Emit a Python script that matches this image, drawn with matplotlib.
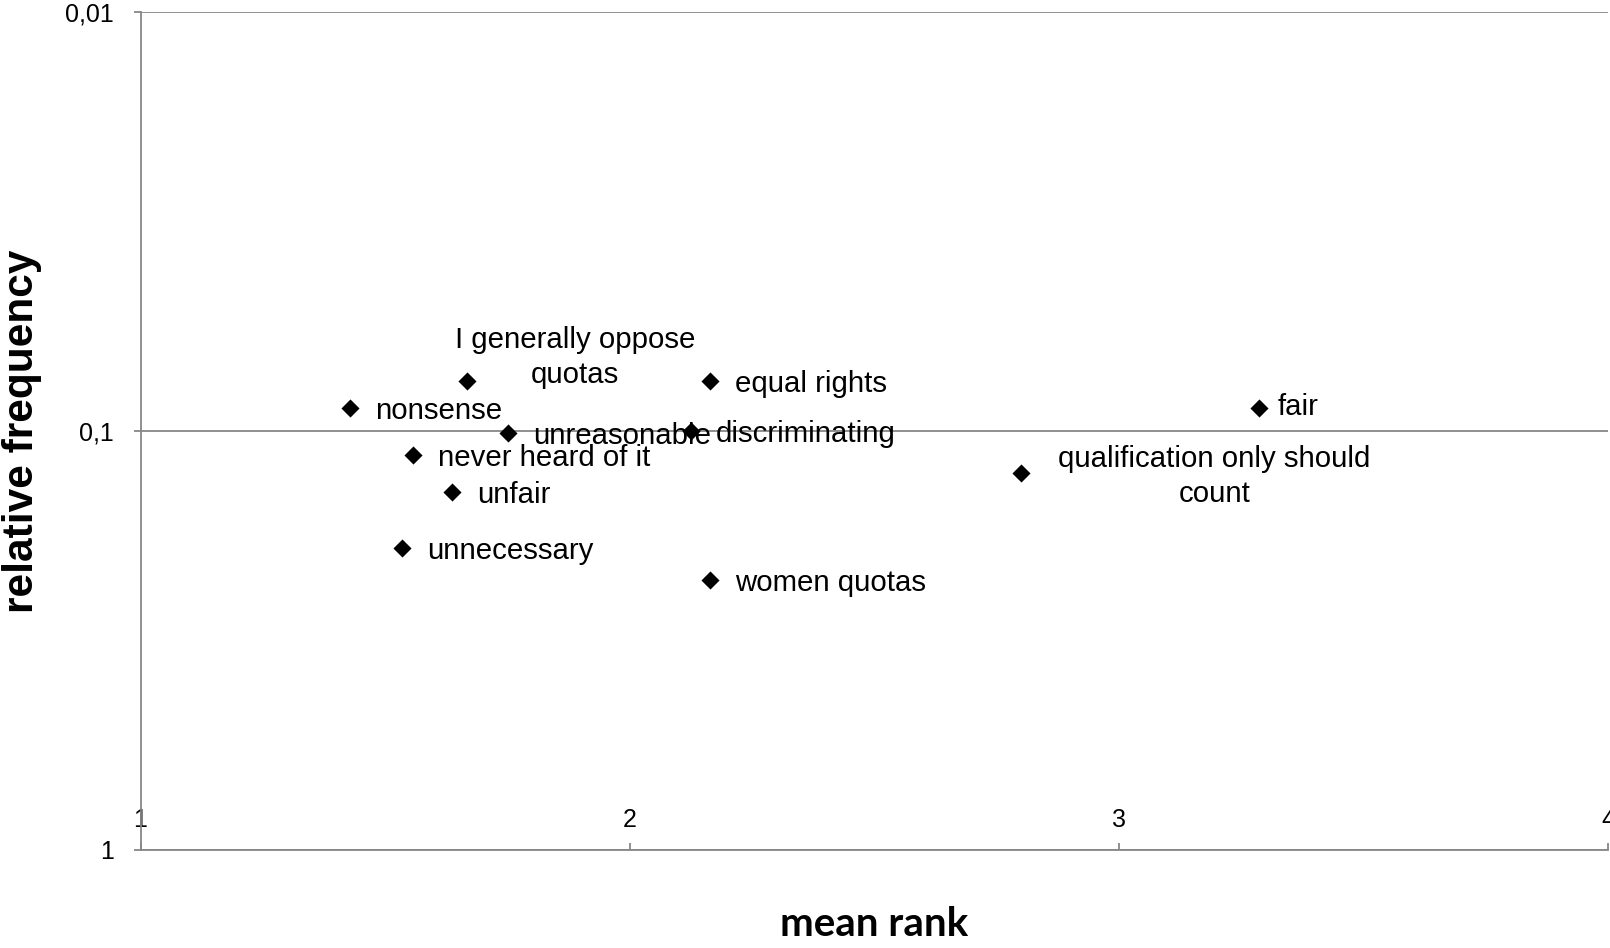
import matplotlib
matplotlib.use("Agg")
import matplotlib.pyplot as plt

# mean rank (x) and relative frequency (y) per term
terms = [
    "I generally oppose\nquotas", "equal rights", "nonsense", "fair",
    "unreasonable", "discriminating", "never heard of it", "unfair",
    "qualification only should\ncount", "unnecessary", "women quotas",
]
mean_rank = [1.667, 2.165, 1.428, 3.286, 1.751, 2.125, 1.556, 1.637, 2.799, 1.534, 2.165]
rel_freq = [0.076, 0.076, 0.088, 0.088, 0.101, 0.100, 0.114, 0.140, 0.126, 0.190, 0.227]

# label offsets in pixels (data label placement)
label_pos = {
    "I generally oppose\nquotas": (108, 24, "center"),
    "qualification only should\ncount": (194, -3, "center"),
    "fair": (19, 1, "left"),
}

x_ticks = [1, 2, 3, 4]
y_ticks = [0.01, 0.1, 1]
y_ticklabels = ["0,01", "0,1", "1"]

plt.rcParams["font.family"] = ["Liberation Sans", "DejaVu Sans"]
grey = "#878787"

fig = plt.figure(figsize=(16.1, 9.48), dpi=100)
ax = fig.add_axes([0.0873, 0.1034, 0.9115, 0.8839])

ax.scatter(mean_rank, rel_freq, marker="D", s=85, color="black", zorder=3,
           linewidths=0)

for t, x, y in zip(terms, mean_rank, rel_freq):
    dx, dy, ha = label_pos.get(t, (25, -3, "left"))
    ax.annotate(t, (x, y), xytext=(dx, dy), textcoords="offset pixels",
                ha=ha, va="center", multialignment="center", linespacing=1.32,
                fontsize=21.2, color="black", zorder=4)

ax.set_yscale("log")
ax.set_ylim(1, 0.01)
ax.set_xlim(1, 4)
ax.set_yticks(y_ticks)
ax.set_yticklabels(y_ticklabels)
ax.minorticks_off()
ax.set_xticks(x_ticks)
ax.set_xticklabels([str(v) for v in x_ticks])

ax.yaxis.grid(True, color=grey, linewidth=1.3)
ax.set_axisbelow(True)
for side in ["top", "right"]:
    ax.spines[side].set_visible(False)
for side in ["left", "bottom"]:
    ax.spines[side].set_color(grey)
    ax.spines[side].set_linewidth(1.3)

ax.tick_params(axis="y", direction="out", length=5, width=1.3, color=grey,
               labelsize=18, pad=14)
ax.tick_params(axis="x", direction="in", length=5, width=1.3, color=grey,
               labelsize=18, pad=-30.5)

ax.set_xlabel("mean rank", fontsize=29, fontweight="bold", family="Lato",
              labelpad=40)
ax.set_ylabel("relative frequency", fontsize=30.5, fontweight="bold",
              va="center")
ax.yaxis.set_label_coords(-0.0805, 0.5)

fig.savefig("out.png", dpi=100)
